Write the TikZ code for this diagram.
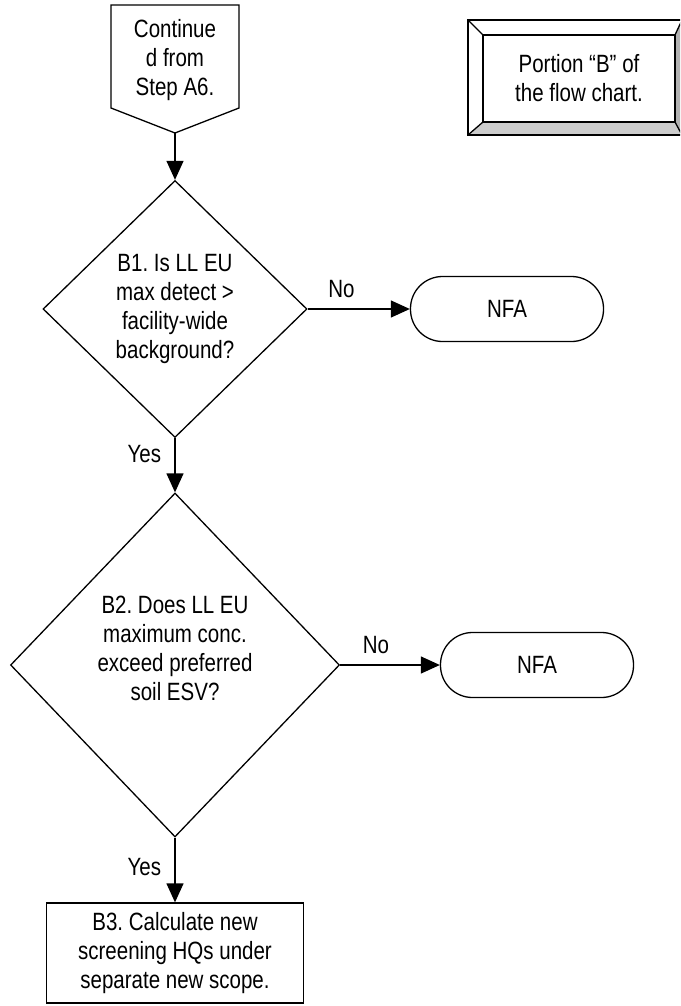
\documentclass[tikz,border=0pt]{standalone}
\usepackage{fontspec}
\setmainfont{Liberation Sans}[FakeStretch=0.82]
\usetikzlibrary{shapes.geometric,arrows.meta}
\frenchspacing

\begin{document}
\begin{tikzpicture}[x=1pt,y=-1pt,
    font=\fontsize{25}{29}\selectfont, line width=1.3pt,
    decision/.style={diamond, draw, aspect=1, inner sep=0pt, align=center},
    terminal/.style={draw, rounded corners=32pt, minimum width=193pt, minimum height=65pt},
    process/.style={draw, minimum width=257pt, minimum height=100pt, align=center},
    flow/.style={-{Triangle[length=19pt,width=17pt]}},
    nolabel/.style={above=7pt},
    yeslabel/.style={left=10pt}
    ]

    \clip (0,0) rectangle (680,1006);

    % off-page connector
    \draw (111,5) -- (239,5) -- (239,108) -- (175,133) -- (111,108) -- cycle;
    \node[align=center] (cont) at (175,60) {Continue\\d from\\Step A6.};
    \coordinate (start) at (175,133);

    % portion label
    \fill[white] (468,20) -- (682,20) -- (675,35) -- (483,35) -- cycle;
    \fill[white] (468,20) -- (483,35) -- (483,122) -- (468,135) -- cycle;
    \fill[gray!60] (682,20) -- (675,35) -- (675,122) -- (682,135) -- cycle;
    \fill[gray!40] (468,135) -- (483,122) -- (675,122) -- (682,135) -- cycle;
    \draw (468,20) rectangle (682,135);
    \draw (483,35) rectangle (675,122);
    \draw (468,20) -- (483,35) (682,20) -- (675,35) (468,135) -- (483,122) (682,135) -- (675,122);
    \node[align=center] (portion) at (579,78) {Portion “B” of\\the flow chart.};

    \node[decision, minimum width=264pt, minimum height=257pt] (b1) at (175,309)
        {B1. Is LL EU\\max detect >\\facility-wide\\background?};
    \node[terminal] (nfa1) at (507,309) {NFA};

    \node[decision, minimum width=329pt, minimum height=344pt] (b2) at (175,665) {};
    \node[align=center] (b2text) at (175,648) {B2. Does LL EU\\maximum conc.\\exceed preferred\\soil ESV?};
    \node[terminal] (nfa2) at (537,665) {NFA};

    \node[process] (b3) at (175,953) {B3. Calculate new\\screening HQs under\\separate new scope.};

    \draw[flow] (start) -- (b1.north);
    \draw[flow] (b1.east) -- node[nolabel, pos=0.33] {No} (nfa1.west);
    \draw[flow] (b1.south) -- node[yeslabel, pos=0.3] {Yes} (b2.north);
    \draw[flow] (b2.east) -- node[nolabel, pos=0.36] {No} (nfa2.west);
    \draw[flow] (b2.south) -- node[yeslabel, pos=0.45] {Yes} (b3.north);
\end{tikzpicture}
\end{document}
